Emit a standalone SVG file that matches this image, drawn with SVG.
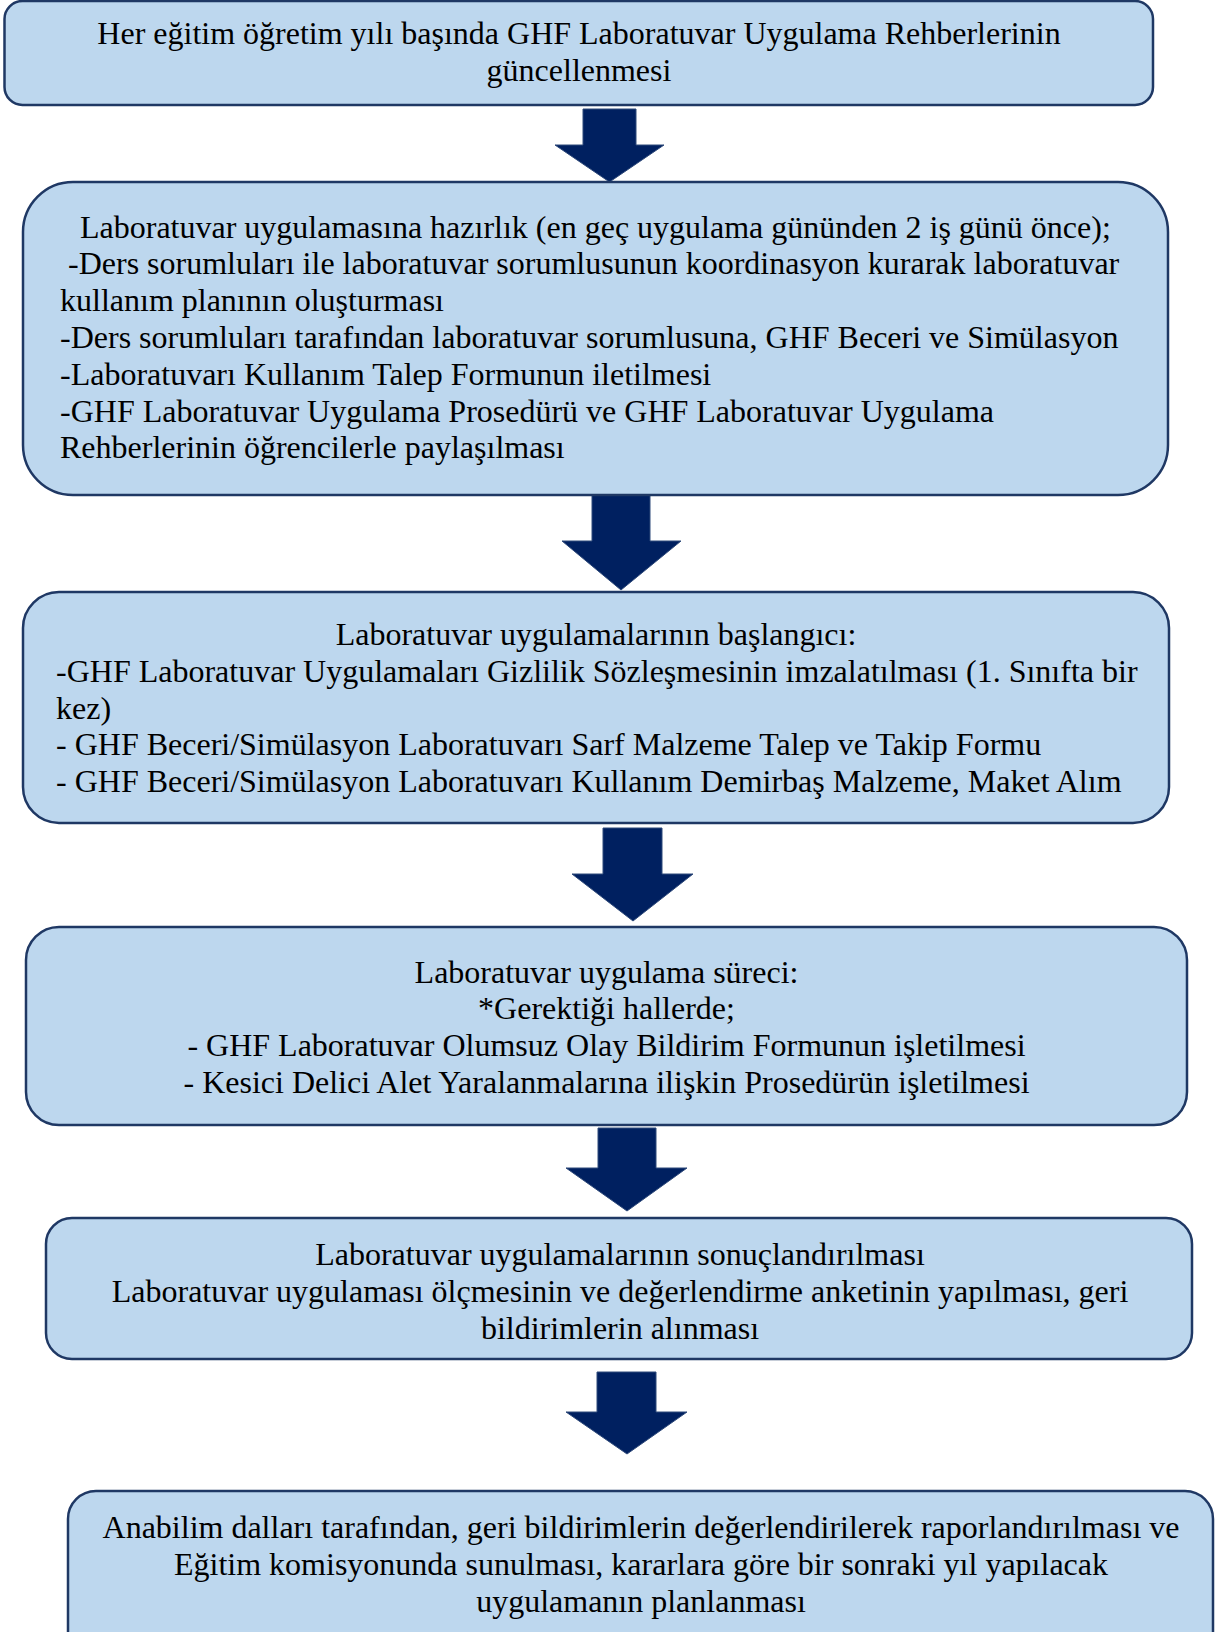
<svg xmlns="http://www.w3.org/2000/svg" width="1219" height="1632" viewBox="0 0 1219 1632">
<style>
.box{fill:#bdd7ee;stroke:#1f3864;stroke-width:2.5}
.arr{fill:#002060;stroke:#2f4a7a;stroke-width:1}
text{font-family:"Liberation Serif","Times New Roman",serif;font-size:32px;fill:#000}
.c{text-anchor:middle}
</style>
<rect width="1219" height="1632" fill="#fff"/>
<g id="connectors">
<polygon class="arr" points="583,109 636,109 636,145 664,145 609.5,182 555,145 583,145"/>
<polygon class="arr" points="592,492 650,492 650,541 681,541 621,590 562,541 592,541"/>
<polygon class="arr" points="603,828 662,828 662,874 693,874 633,921 572,874 603,874"/>
<polygon class="arr" points="598,1128 656,1128 656,1168 687,1168 627,1211 566,1168 598,1168"/>
<polygon class="arr" points="597,1372 656,1372 656,1412 687,1412 627,1454 566,1412 597,1412"/>
</g>
<g id="node1">
<rect class="box" x="4.5" y="1" width="1148.5" height="104" rx="18"/>
<text class="c" x="579" y="44">Her eğitim öğretim yılı başında GHF Laboratuvar Uygulama Rehberlerinin</text>
<text class="c" x="579" y="81">güncellenmesi</text>
</g>
<g id="node2">
<rect class="box" x="23" y="182" width="1145" height="313" rx="50"/>
<text x="80" y="237.5">Laboratuvar uygulamasına hazırlık (en geç uygulama gününden 2 iş günü önce);</text>
<text x="68" y="274.3">-Ders sorumluları ile laboratuvar sorumlusunun koordinasyon kurarak laboratuvar</text>
<text x="60" y="311.1">kullanım planının oluşturması</text>
<text x="60" y="347.9">-Ders sorumluları tarafından laboratuvar sorumlusuna, GHF Beceri ve Simülasyon</text>
<text x="60" y="384.7">-Laboratuvarı Kullanım Talep Formunun iletilmesi</text>
<text x="60" y="421.5">-GHF Laboratuvar Uygulama Prosedürü ve GHF Laboratuvar Uygulama</text>
<text x="60" y="458.3">Rehberlerinin öğrencilerle paylaşılması</text>
</g>
<g id="node3">
<rect class="box" x="23" y="592" width="1146" height="231" rx="36"/>
<text class="c" x="596" y="645">Laboratuvar uygulamalarının başlangıcı:</text>
<text x="56" y="682">-GHF Laboratuvar Uygulamaları Gizlilik Sözleşmesinin imzalatılması (1. Sınıfta bir</text>
<text x="56" y="718.5">kez)</text>
<text x="56" y="755">- GHF Beceri/Simülasyon Laboratuvarı Sarf Malzeme Talep ve Takip Formu</text>
<text x="56" y="791.5">- GHF Beceri/Simülasyon Laboratuvarı Kullanım Demirbaş Malzeme, Maket Alım</text>
</g>
<g id="node4">
<rect class="box" x="26" y="927" width="1161" height="198" rx="33"/>
<text class="c" x="606.5" y="982.5">Laboratuvar uygulama süreci:</text>
<text class="c" x="606.5" y="1019">*Gerektiği hallerde;</text>
<text class="c" x="606.5" y="1055.5">- GHF Laboratuvar Olumsuz Olay Bildirim Formunun işletilmesi</text>
<text class="c" x="606.5" y="1092.5">- Kesici Delici Alet Yaralanmalarına ilişkin Prosedürün işletilmesi</text>
</g>
<g id="node5">
<rect class="box" x="46" y="1218" width="1146" height="141" rx="26"/>
<text class="c" x="620" y="1265">Laboratuvar uygulamalarının sonuçlandırılması</text>
<text class="c" x="620" y="1302">Laboratuvar uygulaması ölçmesinin ve değerlendirme anketinin yapılması, geri</text>
<text class="c" x="620" y="1339">bildirimlerin alınması</text>
</g>
<g id="node6">
<rect class="box" x="68" y="1491" width="1145" height="170" rx="28"/>
<text class="c" x="641" y="1538">Anabilim dalları tarafından, geri bildirimlerin değerlendirilerek raporlandırılması ve</text>
<text class="c" x="641" y="1575">Eğitim komisyonunda sunulması, kararlara göre bir sonraki yıl yapılacak</text>
<text class="c" x="641" y="1612">uygulamanın planlanması</text>
</g>
</svg>
